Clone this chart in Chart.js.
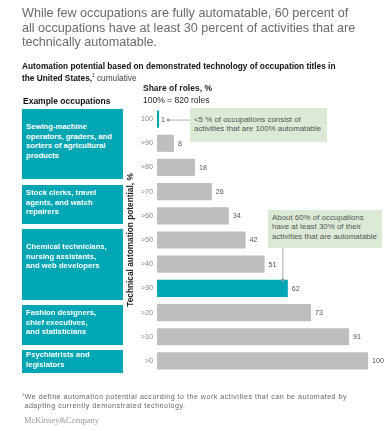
<!DOCTYPE html>
<html><head><meta charset="utf-8">
<script src="https://cdn.jsdelivr.net/npm/chart.js@4"></script>
<style>
html,body{margin:0;padding:0;background:#fff;}
body{width:388px;height:431px;position:relative;overflow:hidden;font-family:"Liberation Sans",Arial,sans-serif;}
#c{position:absolute;left:0;top:0;}
.t{position:absolute;white-space:nowrap;}
#title{left:22px;top:6px;font-size:12.6px;line-height:14.6px;color:#6a6a6a;}
#sub{left:22px;top:62px;font-size:8.3px;line-height:9.4px;color:#111;font-weight:bold;}
#sub span{font-weight:normal;color:#444;}
#share{left:143px;top:83px;font-size:8.5px;line-height:11.5px;color:#222;}
#share b{font-weight:bold;}
#ex{left:23px;top:96px;font-size:8.5px;font-weight:bold;color:#111;}
.box{position:absolute;left:22px;width:101px;background:#00a6b3;color:#fff;font-weight:bold;font-size:7.7px;line-height:9.7px;box-sizing:border-box;padding-left:4px;}
.ann{position:absolute;background:#dcead5;color:#555;font-size:7.9px;line-height:9.4px;box-sizing:border-box;padding-left:4px;}
#foot{left:22px;top:390px;font-size:7.1px;line-height:9px;color:#666;letter-spacing:0.5px;}
#mck{left:24px;top:415px;font-size:8.5px;color:#9a9a9a;font-family:"Liberation Serif","Times New Roman",serif;}
</style></head>
<body>
<canvas id="c" width="388" height="431"></canvas>
<div class="t" id="title">While few occupations are fully automatable, 60 percent of<br>all occupations have at least 30 percent of activities that are<br>technically automatable.</div>
<div class="t" id="sub">Automation potential based on demonstrated technology of occupation titles in<br>the United States,<sup style="font-size:4.5px;font-weight:normal">1</sup> <span>cumulative</span></div>
<div class="t" id="share"><b>Share of roles, %</b><br>100% = 820 roles</div>
<div class="t" id="ex">Example occupations</div>
<div class="box" style="top:109px;height:70px;padding-top:13px;">Sewing-machine<br>operators, graders, and<br>sorters of agricultural<br>products</div>
<div class="box" style="top:185px;height:39px;padding-top:3px;">Stock clerks, travel<br>agents, and watch<br>repairers</div>
<div class="box" style="top:229px;height:71px;padding-top:13px;">Chemical technicians,<br>nursing assistants,<br>and web developers</div>
<div class="box" style="top:305px;height:40px;padding-top:3px;">Fashion designers,<br>chief executives,<br>and statisticians</div>
<div class="box" style="top:350px;height:23px;padding-top:0px;">Psychiatrists and<br>legislators</div>
<div class="ann" style="left:190px;top:108px;width:137px;height:34px;padding-top:7px;">&lt;5 % of occupations consist of<br>activities that are 100% automatable</div>
<div class="ann" style="left:268px;top:210px;width:114px;height:38px;padding-top:3px;">About 60% of occupations<br>have at least 30% of their<br>activities that are automatable</div>
<div class="t" id="foot"><sup style="font-size:4px">1</sup>We define automation potential according to the work activities that can be automated by<br>&nbsp;adapting currently demonstrated technology.</div>
<div class="t" id="mck">McKinsey&amp;Company</div>
<script>
const categories = ['100', '>90', '>80', '>70', '>60', '>50', '>40', '>30', '>20', '>10', '>0'];
const shareOfRoles = [1, 8, 18, 26, 34, 42, 51, 62, 73, 91, 100];
const highlighted = ['100', '>30'];

const TEAL = '#00a6b3', GREY = '#bebebe';

const valueLabels = {
  id: 'valueLabels',
  afterDatasetsDraw(chart) {
    const ctx = chart.ctx;
    const meta = chart.getDatasetMeta(0);
    ctx.save();
    ctx.font = '7.2px "Liberation Sans", Arial, sans-serif';
    ctx.fillStyle = '#555';
    ctx.textBaseline = 'middle';
    ctx.textAlign = 'left';
    meta.data.forEach((bar, i) => {
      ctx.fillText(String(shareOfRoles[i]), bar.x + (shareOfRoles[i] < 5 ? 2 : 4), bar.y + 0.5);
    });
    // connector 1: from first bar label to annotation box
    const b0 = meta.data[0];
    ctx.strokeStyle = '#9a9a9a';
    ctx.fillStyle = '#9a9a9a';
    ctx.lineWidth = 0.8;
    ctx.beginPath();
    ctx.moveTo(b0.x + 9, b0.y + 1);
    ctx.lineTo(190, b0.y + 1);
    ctx.stroke();
    ctx.beginPath();
    ctx.arc(b0.x + 9, b0.y + 1, 1.5, 0, Math.PI * 2);
    ctx.fill();
    // connector 2: from >30 bar to annotation box
    const b7 = meta.data[7];
    const top = b7.y - b7.height / 2;
    ctx.beginPath();
    ctx.moveTo(b7.x - 5, top);
    ctx.lineTo(b7.x - 5, 248);
    ctx.stroke();
    ctx.beginPath();
    ctx.arc(b7.x - 5, top, 1.6, 0, Math.PI * 2);
    ctx.fill();
    ctx.restore();
  }
};

new Chart(document.getElementById('c'), {
  type: 'bar',
  data: {
    labels: categories,
    datasets: [{
      data: shareOfRoles,
      backgroundColor: categories.map(c => highlighted.includes(c) ? TEAL : GREY),
      borderWidth: 0,
      barPercentage: 0.71,
      categoryPercentage: 1
    }]
  },
  options: {
    indexAxis: 'y',
    responsive: false,
    animation: false,
    devicePixelRatio: 1,
    layout: { padding: { left: 126, right: 20, top: 107, bottom: 58 } },
    plugins: { legend: { display: false }, tooltip: { enabled: false } },
    scales: {
      x: { display: false, min: 0, max: 100 },
      y: {
        grid: { display: false, drawTicks: false },
        border: { display: false },
        afterFit(s) { s.width = 31; },
        ticks: {
          autoSkip: false,
          padding: 4,
          color: '#888',
          font: { family: '"Liberation Sans", Arial, sans-serif', size: 7.2 }
        },
        title: {
          display: true,
          text: 'Technical automation potential, %',
          color: '#222',
          padding: 0,
          font: { family: '"Liberation Sans", Arial, sans-serif', size: 8.3, weight: 'bold' }
        }
      }
    }
  },
  plugins: [valueLabels]
});
</script>
</body></html>
